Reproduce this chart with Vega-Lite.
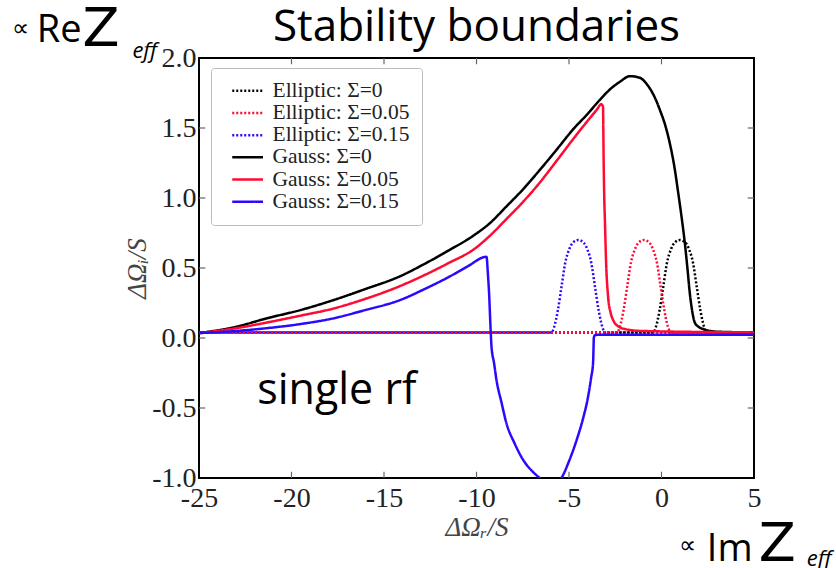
{
  "$schema": "https://vega.github.io/schema/vega-lite/v6.json",
  "width": 555,
  "height": 420,
  "autosize": {"type": "none"},
  "padding": {"left": 199, "top": 58, "right": 82, "bottom": 90},
  "background": "white",
  "config": {
    "view": {"stroke": "black", "strokeWidth": 2},
    "axis": {"grid": false, "domain": false, "tickColor": "#555", "tickWidth": 1, "tickSize": -6, "tickOpacity": 0, "labelFlush": false,
      "labelFont": "Liberation Serif", "labelFontSize": 28, "labelColor": "#222",
      "titleFont": "Liberation Serif", "titleFontStyle": "italic", "titleFontWeight": "normal", "titleFontSize": 27, "titleColor": "#444"},
    "legend": {"orient": "none", "legendX": 12, "legendY": 10, "title": null, "symbolType": "M-0.2,0L3.9,0", "symbolSize": 225,
      "labelFont": "Liberation Serif", "labelFontSize": 21.5, "labelColor": "#222", "labelOffset": 28,
      "padding": 12, "fillColor": "white", "strokeColor": "#bbb", "cornerRadius": 3, "rowPadding": -0.8}
  },
  "data": {"values": [
    {"s": "Elliptic: Σ=0", "x": -25, "y": 0.04},
    {"s": "Elliptic: Σ=0", "x": -0.45, "y": 0.04},
    {"s": "Elliptic: Σ=0", "x": -0.3, "y": 0.08},
    {"s": "Elliptic: Σ=0", "x": -0.1, "y": 0.2},
    {"s": "Elliptic: Σ=0", "x": 0.1, "y": 0.37},
    {"s": "Elliptic: Σ=0", "x": 0.3, "y": 0.54},
    {"s": "Elliptic: Σ=0", "x": 0.5, "y": 0.63},
    {"s": "Elliptic: Σ=0", "x": 0.7, "y": 0.68},
    {"s": "Elliptic: Σ=0", "x": 1.0, "y": 0.7},
    {"s": "Elliptic: Σ=0", "x": 1.3, "y": 0.68},
    {"s": "Elliptic: Σ=0", "x": 1.5, "y": 0.63},
    {"s": "Elliptic: Σ=0", "x": 1.7, "y": 0.54},
    {"s": "Elliptic: Σ=0", "x": 1.9, "y": 0.37},
    {"s": "Elliptic: Σ=0", "x": 2.1, "y": 0.2},
    {"s": "Elliptic: Σ=0", "x": 2.3, "y": 0.08},
    {"s": "Elliptic: Σ=0", "x": 2.45, "y": 0.04},
    {"s": "Elliptic: Σ=0", "x": 5, "y": 0.04},
    {"s": "Elliptic: Σ=0.05", "x": -25, "y": 0.04},
    {"s": "Elliptic: Σ=0.05", "x": -2.4, "y": 0.04},
    {"s": "Elliptic: Σ=0.05", "x": -2.25, "y": 0.08},
    {"s": "Elliptic: Σ=0.05", "x": -2.05, "y": 0.2},
    {"s": "Elliptic: Σ=0.05", "x": -1.85, "y": 0.37},
    {"s": "Elliptic: Σ=0.05", "x": -1.65, "y": 0.54},
    {"s": "Elliptic: Σ=0.05", "x": -1.45, "y": 0.63},
    {"s": "Elliptic: Σ=0.05", "x": -1.25, "y": 0.68},
    {"s": "Elliptic: Σ=0.05", "x": -0.95, "y": 0.7},
    {"s": "Elliptic: Σ=0.05", "x": -0.65, "y": 0.68},
    {"s": "Elliptic: Σ=0.05", "x": -0.45, "y": 0.63},
    {"s": "Elliptic: Σ=0.05", "x": -0.25, "y": 0.54},
    {"s": "Elliptic: Σ=0.05", "x": -0.05, "y": 0.37},
    {"s": "Elliptic: Σ=0.05", "x": 0.15, "y": 0.2},
    {"s": "Elliptic: Σ=0.05", "x": 0.35, "y": 0.08},
    {"s": "Elliptic: Σ=0.05", "x": 0.5, "y": 0.04},
    {"s": "Elliptic: Σ=0.05", "x": 5, "y": 0.04},
    {"s": "Elliptic: Σ=0.15", "x": -25, "y": 0.04},
    {"s": "Elliptic: Σ=0.15", "x": -5.95, "y": 0.04},
    {"s": "Elliptic: Σ=0.15", "x": -5.8, "y": 0.08},
    {"s": "Elliptic: Σ=0.15", "x": -5.6, "y": 0.2},
    {"s": "Elliptic: Σ=0.15", "x": -5.4, "y": 0.37},
    {"s": "Elliptic: Σ=0.15", "x": -5.2, "y": 0.54},
    {"s": "Elliptic: Σ=0.15", "x": -5.0, "y": 0.63},
    {"s": "Elliptic: Σ=0.15", "x": -4.8, "y": 0.68},
    {"s": "Elliptic: Σ=0.15", "x": -4.5, "y": 0.7},
    {"s": "Elliptic: Σ=0.15", "x": -4.2, "y": 0.68},
    {"s": "Elliptic: Σ=0.15", "x": -4.0, "y": 0.63},
    {"s": "Elliptic: Σ=0.15", "x": -3.8, "y": 0.54},
    {"s": "Elliptic: Σ=0.15", "x": -3.6, "y": 0.37},
    {"s": "Elliptic: Σ=0.15", "x": -3.4, "y": 0.2},
    {"s": "Elliptic: Σ=0.15", "x": -3.2, "y": 0.08},
    {"s": "Elliptic: Σ=0.15", "x": -3.05, "y": 0.04},
    {"s": "Elliptic: Σ=0.15", "x": 5, "y": 0.04},
    {"s": "Gauss: Σ=0", "x": -25, "y": 0.035},
    {"s": "Gauss: Σ=0", "x": -23, "y": 0.08},
    {"s": "Gauss: Σ=0", "x": -21.35, "y": 0.14},
    {"s": "Gauss: Σ=0", "x": -19.5, "y": 0.2},
    {"s": "Gauss: Σ=0", "x": -17.75, "y": 0.27},
    {"s": "Gauss: Σ=0", "x": -16, "y": 0.35},
    {"s": "Gauss: Σ=0", "x": -14.15, "y": 0.44},
    {"s": "Gauss: Σ=0", "x": -12.8, "y": 0.53},
    {"s": "Gauss: Σ=0", "x": -11.44, "y": 0.63},
    {"s": "Gauss: Σ=0", "x": -10.18, "y": 0.73},
    {"s": "Gauss: Σ=0", "x": -9.28, "y": 0.82},
    {"s": "Gauss: Σ=0", "x": -8.38, "y": 0.94},
    {"s": "Gauss: Σ=0", "x": -7.5, "y": 1.06},
    {"s": "Gauss: Σ=0", "x": -6.58, "y": 1.2},
    {"s": "Gauss: Σ=0", "x": -5.7, "y": 1.34},
    {"s": "Gauss: Σ=0", "x": -4.78, "y": 1.49},
    {"s": "Gauss: Σ=0", "x": -4.0, "y": 1.6},
    {"s": "Gauss: Σ=0", "x": -3.34, "y": 1.7},
    {"s": "Gauss: Σ=0", "x": -2.75, "y": 1.78},
    {"s": "Gauss: Σ=0", "x": -2.25, "y": 1.83},
    {"s": "Gauss: Σ=0", "x": -1.71, "y": 1.87},
    {"s": "Gauss: Σ=0", "x": -1.2, "y": 1.86},
    {"s": "Gauss: Σ=0", "x": -0.72, "y": 1.8},
    {"s": "Gauss: Σ=0", "x": -0.3, "y": 1.7},
    {"s": "Gauss: Σ=0", "x": -0.09, "y": 1.63},
    {"s": "Gauss: Σ=0", "x": 0.2, "y": 1.52},
    {"s": "Gauss: Σ=0", "x": 0.45, "y": 1.39},
    {"s": "Gauss: Σ=0", "x": 0.7, "y": 1.22},
    {"s": "Gauss: Σ=0", "x": 0.9, "y": 1.04},
    {"s": "Gauss: Σ=0", "x": 1.1, "y": 0.85},
    {"s": "Gauss: Σ=0", "x": 1.26, "y": 0.68},
    {"s": "Gauss: Σ=0", "x": 1.4, "y": 0.5},
    {"s": "Gauss: Σ=0", "x": 1.53, "y": 0.32},
    {"s": "Gauss: Σ=0", "x": 1.65, "y": 0.2},
    {"s": "Gauss: Σ=0", "x": 1.8, "y": 0.11},
    {"s": "Gauss: Σ=0", "x": 2.0, "y": 0.08},
    {"s": "Gauss: Σ=0", "x": 2.25, "y": 0.064},
    {"s": "Gauss: Σ=0", "x": 3, "y": 0.045},
    {"s": "Gauss: Σ=0", "x": 5, "y": 0.04},
    {"s": "Gauss: Σ=0.05", "x": -25, "y": 0.035},
    {"s": "Gauss: Σ=0.05", "x": -23, "y": 0.07},
    {"s": "Gauss: Σ=0.05", "x": -21.35, "y": 0.11},
    {"s": "Gauss: Σ=0.05", "x": -19.5, "y": 0.16},
    {"s": "Gauss: Σ=0.05", "x": -17.75, "y": 0.21},
    {"s": "Gauss: Σ=0.05", "x": -16, "y": 0.28},
    {"s": "Gauss: Σ=0.05", "x": -14.15, "y": 0.37},
    {"s": "Gauss: Σ=0.05", "x": -12.8, "y": 0.45},
    {"s": "Gauss: Σ=0.05", "x": -11.44, "y": 0.54},
    {"s": "Gauss: Σ=0.05", "x": -10.18, "y": 0.63},
    {"s": "Gauss: Σ=0.05", "x": -9.28, "y": 0.73},
    {"s": "Gauss: Σ=0.05", "x": -8.38, "y": 0.85},
    {"s": "Gauss: Σ=0.05", "x": -7.5, "y": 0.97},
    {"s": "Gauss: Σ=0.05", "x": -6.58, "y": 1.11},
    {"s": "Gauss: Σ=0.05", "x": -5.7, "y": 1.26},
    {"s": "Gauss: Σ=0.05", "x": -4.78, "y": 1.42},
    {"s": "Gauss: Σ=0.05", "x": -4.0, "y": 1.55},
    {"s": "Gauss: Σ=0.05", "x": -3.5, "y": 1.63},
    {"s": "Gauss: Σ=0.05", "x": -3.25, "y": 1.67},
    {"s": "Gauss: Σ=0.05", "x": -3.16, "y": 1.65},
    {"s": "Gauss: Σ=0.05", "x": -3.15, "y": 1.55},
    {"s": "Gauss: Σ=0.05", "x": -3.13, "y": 1.3},
    {"s": "Gauss: Σ=0.05", "x": -3.1, "y": 1.04},
    {"s": "Gauss: Σ=0.05", "x": -3.05, "y": 0.8},
    {"s": "Gauss: Σ=0.05", "x": -3.0, "y": 0.56},
    {"s": "Gauss: Σ=0.05", "x": -2.89, "y": 0.3},
    {"s": "Gauss: Σ=0.05", "x": -2.75, "y": 0.18},
    {"s": "Gauss: Σ=0.05", "x": -2.62, "y": 0.13},
    {"s": "Gauss: Σ=0.05", "x": -2.3, "y": 0.08},
    {"s": "Gauss: Σ=0.05", "x": -1.98, "y": 0.064},
    {"s": "Gauss: Σ=0.05", "x": -1.0, "y": 0.05},
    {"s": "Gauss: Σ=0.05", "x": 5, "y": 0.04},
    {"s": "Gauss: Σ=0.15", "x": -25, "y": 0.035},
    {"s": "Gauss: Σ=0.15", "x": -23, "y": 0.05},
    {"s": "Gauss: Σ=0.15", "x": -21.35, "y": 0.07},
    {"s": "Gauss: Σ=0.15", "x": -19.5, "y": 0.1},
    {"s": "Gauss: Σ=0.15", "x": -17.75, "y": 0.14},
    {"s": "Gauss: Σ=0.15", "x": -16, "y": 0.2},
    {"s": "Gauss: Σ=0.15", "x": -14.15, "y": 0.27},
    {"s": "Gauss: Σ=0.15", "x": -12.8, "y": 0.35},
    {"s": "Gauss: Σ=0.15", "x": -11.44, "y": 0.44},
    {"s": "Gauss: Σ=0.15", "x": -10.5, "y": 0.51},
    {"s": "Gauss: Σ=0.15", "x": -9.46, "y": 0.58},
    {"s": "Gauss: Σ=0.15", "x": -9.38, "y": 0.45},
    {"s": "Gauss: Σ=0.15", "x": -9.32, "y": 0.32},
    {"s": "Gauss: Σ=0.15", "x": -9.25, "y": 0.1},
    {"s": "Gauss: Σ=0.15", "x": -9.19, "y": -0.06},
    {"s": "Gauss: Σ=0.15", "x": -9.05, "y": -0.18},
    {"s": "Gauss: Σ=0.15", "x": -8.92, "y": -0.3},
    {"s": "Gauss: Σ=0.15", "x": -8.65, "y": -0.46},
    {"s": "Gauss: Σ=0.15", "x": -8.38, "y": -0.61},
    {"s": "Gauss: Σ=0.15", "x": -7.95, "y": -0.75},
    {"s": "Gauss: Σ=0.15", "x": -7.48, "y": -0.87},
    {"s": "Gauss: Σ=0.15", "x": -7.0, "y": -0.95},
    {"s": "Gauss: Σ=0.15", "x": -6.58, "y": -1.0},
    {"s": "Gauss: Σ=0.15", "x": -6.0, "y": -1.06},
    {"s": "Gauss: Σ=0.15", "x": -5.41, "y": -1.0},
    {"s": "Gauss: Σ=0.15", "x": -5.0, "y": -0.88},
    {"s": "Gauss: Σ=0.15", "x": -4.59, "y": -0.73},
    {"s": "Gauss: Σ=0.15", "x": -4.25, "y": -0.58},
    {"s": "Gauss: Σ=0.15", "x": -3.97, "y": -0.42},
    {"s": "Gauss: Σ=0.15", "x": -3.8, "y": -0.28},
    {"s": "Gauss: Σ=0.15", "x": -3.7, "y": -0.18},
    {"s": "Gauss: Σ=0.15", "x": -3.67, "y": -0.05},
    {"s": "Gauss: Σ=0.15", "x": -3.66, "y": 0.0},
    {"s": "Gauss: Σ=0.15", "x": -3.6, "y": 0.02},
    {"s": "Gauss: Σ=0.15", "x": -3.34, "y": 0.024},
    {"s": "Gauss: Σ=0.15", "x": 5, "y": 0.024}
  ]},
  "layer": [
    {
      "data": {"values": [{"v": -20}, {"v": -15}, {"v": -10}, {"v": -5}, {"v": 0}]},
      "layer": [
        {"mark": {"type": "rule", "color": "#666", "strokeWidth": 1.2}, "encoding": {"x": {"field": "v", "type": "quantitative"}, "y": {"datum": 2.0}, "y2": {"datum": 1.955}}},
        {"mark": {"type": "rule", "color": "#666", "strokeWidth": 1.2}, "encoding": {"x": {"field": "v", "type": "quantitative"}, "y": {"datum": -1.0}, "y2": {"datum": -0.955}}}
      ]
    },
    {
      "data": {"values": [{"v": -0.5}, {"v": 0}, {"v": 0.5}, {"v": 1}, {"v": 1.5}]},
      "layer": [
        {"mark": {"type": "rule", "color": "#666", "strokeWidth": 1.2}, "encoding": {"y": {"field": "v", "type": "quantitative"}, "x": {"datum": -25}, "x2": {"datum": -24.66}}},
        {"mark": {"type": "rule", "color": "#666", "strokeWidth": 1.2}, "encoding": {"y": {"field": "v", "type": "quantitative"}, "x": {"datum": 5}, "x2": {"datum": 4.66}}}
      ]
    },
    {
      "transform": [{"filter": "datum.s === 'Elliptic: Σ=0.15'"}],
      "mark": {"type": "line", "clip": true, "strokeCap": "butt", "strokeJoin": "round", "interpolate": "monotone", "strokeDashOffset": 2},
      "encoding": {
        "x": {"field": "x", "type": "quantitative"},
        "y": {"field": "y", "type": "quantitative"},
        "color": {"field": "s", "type": "nominal"},
        "strokeDash": {"field": "s", "type": "nominal"},
        "strokeWidth": {"field": "s", "type": "nominal"}
      }
    },
    {
      "transform": [{"filter": "datum.s !== 'Elliptic: Σ=0.15'"}],
      "mark": {"type": "line", "clip": true, "strokeCap": "butt", "strokeJoin": "round", "interpolate": "monotone"},
      "encoding": {
        "x": {"field": "x", "type": "quantitative", "scale": {"domain": [-25, 5], "nice": false, "zero": false},
          "axis": {"values": [-25, -20, -15, -10, -5, 0, 5], "labelExpr": "replace(format(datum.value, '.0f'), '\u2212', '-')", "labelPadding": 12, "title": "ΔΩᵣ/S", "titlePadding": 2}},
        "y": {"field": "y", "type": "quantitative", "scale": {"domain": [-1, 2], "nice": false, "zero": false},
          "axis": {"values": [-1, -0.5, 0, 0.5, 1, 1.5, 2], "labelExpr": "replace(format(datum.value, '.1f'), '\u2212', '-')", "labelPadding": 9, "title": "ΔΩᵢ/S", "titlePadding": 0}},
        "color": {"field": "s", "type": "nominal",
          "scale": {"domain": ["Elliptic: Σ=0", "Elliptic: Σ=0.05", "Elliptic: Σ=0.15", "Gauss: Σ=0", "Gauss: Σ=0.05", "Gauss: Σ=0.15"],
            "range": ["#000000", "#ff0a32", "#2a0aff", "#000000", "#ff0a32", "#2a0aff"]}},
        "strokeDash": {"field": "s", "type": "nominal",
          "scale": {"domain": ["Elliptic: Σ=0", "Elliptic: Σ=0.05", "Elliptic: Σ=0.15", "Gauss: Σ=0", "Gauss: Σ=0.05", "Gauss: Σ=0.15"],
            "range": [[2, 2], [2, 2], [2, 2], [1, 0], [1, 0], [1, 0]]}},
        "strokeWidth": {"field": "s", "type": "nominal",
          "scale": {"domain": ["Elliptic: Σ=0", "Elliptic: Σ=0.05", "Elliptic: Σ=0.15", "Gauss: Σ=0", "Gauss: Σ=0.05", "Gauss: Σ=0.15"],
            "range": [2.5, 2.5, 2.5, 3.5, 3.5, 3.5]}}
      }
    },
    {
      "data": {"values": [{}]},
      "mark": {"type": "text", "text": "Stability boundaries", "font": "Open Sans", "fontSize": 44, "align": "center", "baseline": "alphabetic"},
      "encoding": {"x": {"datum": -10.0}, "y": {"datum": 2.125}}
    },
    {
      "data": {"values": [{}]},
      "mark": {"type": "text", "text": "single rf", "font": "Open Sans", "fontSize": 43, "align": "center", "baseline": "alphabetic"},
      "encoding": {"x": {"datum": -17.55}, "y": {"datum": -0.47}}
    },
    {
      "data": {"values": [{}]},
      "mark": {"type": "text", "text": "∝", "font": "Open Sans", "fontSize": 24, "align": "left", "baseline": "alphabetic"},
      "encoding": {"x": {"datum": -35.1}, "y": {"datum": 2.16}}
    },
    {
      "data": {"values": [{}]},
      "mark": {"type": "text", "text": "Re", "font": "Open Sans", "fontSize": 38, "align": "left", "baseline": "alphabetic"},
      "encoding": {"x": {"datum": -33.77}, "y": {"datum": 2.116}}
    },
    {
      "data": {"values": [{}]},
      "mark": {"type": "text", "text": "Z", "font": "DejaVu Sans", "fontSize": 54, "align": "left", "baseline": "alphabetic"},
      "encoding": {"x": {"datum": -31.3}, "y": {"datum": 2.088}}
    },
    {
      "data": {"values": [{}]},
      "mark": {"type": "text", "text": "eff", "font": "Open Sans", "fontStyle": "italic", "fontSize": 22, "align": "left", "baseline": "alphabetic"},
      "encoding": {"x": {"datum": -28.6}, "y": {"datum": 2.0}}
    },
    {
      "data": {"values": [{}]},
      "mark": {"type": "text", "text": "∝", "font": "Open Sans", "fontSize": 24, "align": "left", "baseline": "alphabetic"},
      "encoding": {"x": {"datum": 0.95}, "y": {"datum": -1.534}}
    },
    {
      "data": {"values": [{}]},
      "mark": {"type": "text", "text": "Im", "font": "Open Sans", "fontSize": 38, "align": "left", "baseline": "alphabetic"},
      "encoding": {"x": {"datum": 2.45}, "y": {"datum": -1.591}}
    },
    {
      "data": {"values": [{}]},
      "mark": {"type": "text", "text": "Z", "font": "DejaVu Sans", "fontSize": 54, "align": "left", "baseline": "alphabetic"},
      "encoding": {"x": {"datum": 5.25}, "y": {"datum": -1.591}}
    },
    {
      "data": {"values": [{}]},
      "mark": {"type": "text", "text": "eff", "font": "Open Sans", "fontStyle": "italic", "fontSize": 22, "align": "left", "baseline": "alphabetic"},
      "encoding": {"x": {"datum": 7.85}, "y": {"datum": -1.626}}
    }
  ]
}
